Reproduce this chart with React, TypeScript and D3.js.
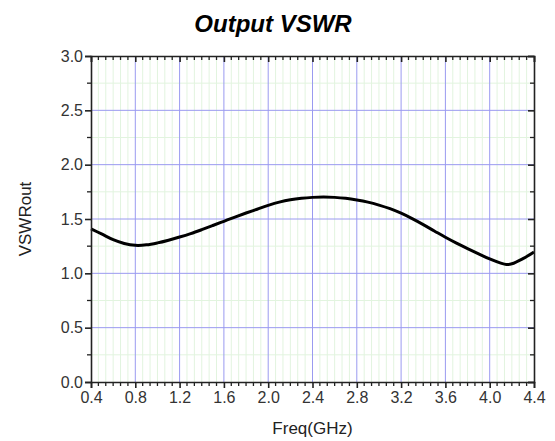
import React, { useEffect, useRef } from 'react';
import * as d3 from 'd3';

// frequency (GHz) and VSWR
const freq = [0.4, 0.5, 0.6, 0.7, 0.8, 0.9, 1.0, 1.1, 1.2, 1.3, 1.4, 1.5, 1.6, 1.7, 1.8, 1.9, 2.0, 2.1, 2.2, 2.3, 2.4, 2.5, 2.6, 2.7, 2.8, 2.9, 3.0, 3.1, 3.2, 3.3, 3.4, 3.5, 3.6, 3.7, 3.8, 3.9, 4.0, 4.1, 4.15, 4.2, 4.3, 4.4];
const vswr = [1.41, 1.36, 1.31, 1.275, 1.258, 1.262, 1.28, 1.305, 1.334, 1.366, 1.402, 1.44, 1.479, 1.518, 1.555, 1.59, 1.625, 1.655, 1.677, 1.691, 1.699, 1.702, 1.699, 1.69, 1.675, 1.655, 1.628, 1.595, 1.553, 1.503, 1.448, 1.39, 1.332, 1.278, 1.228, 1.18, 1.132, 1.094, 1.082, 1.088, 1.135, 1.196];

const xTicks = [0.4, 0.8, 1.2, 1.6, 2.0, 2.4, 2.8, 3.2, 3.6, 4.0, 4.4];
const yTicks = [0, 0.5, 1.0, 1.5, 2.0, 2.5, 3.0];

const App = () => {
  const ref = useRef<SVGSVGElement>(null);

  useEffect(() => {
    const width = 555;
    const height = 441;
    const margin = { top: 56, right: 21, bottom: 59, left: 91 };
    const w = width - margin.left - margin.right;
    const h = height - margin.top - margin.bottom;

    const svg = d3.select(ref.current);
    svg.selectAll('*').remove();

    const g = svg.append('g').attr('transform', `translate(${margin.left},${margin.top})`);

    const x = d3.scaleLinear().domain([0.4, 4.4]).range([0, w]);
    const y = d3.scaleLinear().domain([0, 3]).range([h, 0]);

    // minor positions: 5 minor ticks per x interval, 1 per y interval
    const xMinor: number[] = [];
    for (let i = 0; i < xTicks.length - 1; i++) {
      for (let k = 1; k < 6; k++) xMinor.push(xTicks[i] + (k * 0.4) / 6);
    }
    const yMinor = yTicks.slice(0, -1).map(v => v + 0.25);

    // minor grid (light green)
    g.selectAll('.vminor').data(xMinor).enter().append('line')
      .attr('x1', d => x(d)).attr('x2', d => x(d)).attr('y1', 0).attr('y2', h)
      .attr('stroke', '#e2f4df').attr('stroke-width', 1);
    g.selectAll('.hminor').data(yMinor).enter().append('line')
      .attr('y1', d => y(d)).attr('y2', d => y(d)).attr('x1', 0).attr('x2', w)
      .attr('stroke', '#e2f4df').attr('stroke-width', 1);

    // major grid (blue)
    g.selectAll('.vmajor').data(xTicks.slice(1, -1)).enter().append('line')
      .attr('x1', d => x(d)).attr('x2', d => x(d)).attr('y1', 0).attr('y2', h)
      .attr('stroke', '#9a9af0').attr('stroke-width', 1);
    g.selectAll('.hmajor').data(yTicks.slice(1, -1)).enter().append('line')
      .attr('y1', d => y(d)).attr('y2', d => y(d)).attr('x1', 0).attr('x2', w)
      .attr('stroke', '#9a9af0').attr('stroke-width', 1);

    // curve
    const line = d3.line<number>()
      .x((_, i) => x(freq[i]))
      .y(d => y(d))
      .curve(d3.curveCatmullRom.alpha(0.5));
    g.append('path')
      .datum(vswr)
      .attr('d', line)
      .attr('fill', 'none')
      .attr('stroke', '#000')
      .attr('stroke-width', 3);

    const font = 'Liberation Sans, Arial, sans-serif';

    // bottom axis
    const bottom = g.append('g').attr('transform', `translate(0,${h})`)
      .call(d3.axisBottom(x).tickValues(xTicks).tickFormat(d3.format('.1f')).tickSize(6).tickPadding(4));
    bottom.append('g').selectAll('line').data(xMinor).enter().append('line')
      .attr('x1', d => x(d)).attr('x2', d => x(d)).attr('y1', 0).attr('y2', 4)
      .attr('stroke', '#222').attr('stroke-width', 1.3);

    // left axis
    const left = g.append('g')
      .call(d3.axisLeft(y).tickValues(yTicks).tickFormat(d3.format('.1f')).tickSize(6).tickPadding(2));
    left.append('g').selectAll('line').data(yMinor).enter().append('line')
      .attr('y1', d => y(d)).attr('y2', d => y(d)).attr('x1', 0).attr('x2', -4)
      .attr('stroke', '#222').attr('stroke-width', 1.3);

    // top axis (ticks inward)
    const top = g.append('g')
      .call(d3.axisTop(x).tickValues(xTicks).tickFormat(() => '').tickSize(-6));
    top.append('g').selectAll('line').data(xMinor).enter().append('line')
      .attr('x1', d => x(d)).attr('x2', d => x(d)).attr('y1', 0).attr('y2', 4)
      .attr('stroke', '#222').attr('stroke-width', 1.3);

    // right axis (ticks inward)
    const right = g.append('g').attr('transform', `translate(${w},0)`)
      .call(d3.axisRight(y).tickValues(yTicks).tickFormat(() => '').tickSize(-6));
    right.append('g').selectAll('line').data(yMinor).enter().append('line')
      .attr('y1', d => y(d)).attr('y2', d => y(d)).attr('x1', 0).attr('x2', -4)
      .attr('stroke', '#222').attr('stroke-width', 1.3);

    [bottom, left, top, right].forEach(a => {
      a.select('.domain').attr('stroke', '#222').attr('stroke-width', 1.6);
      a.selectAll('.tick line').attr('stroke', '#222').attr('stroke-width', 1.6);
      a.selectAll('text').attr('fill', '#333').style('font-family', font).style('font-size', '16px');
    });

    // axis titles
    g.append('text')
      .attr('x', w / 2)
      .attr('y', h + 52)
      .attr('text-anchor', 'middle')
      .style('font-family', font)
      .style('font-size', '17px')
      .attr('fill', '#222')
      .text('Freq(GHz)');

    g.append('text')
      .attr('transform', `translate(${-60},${h / 2}) rotate(-90)`)
      .attr('text-anchor', 'middle')
      .style('font-family', font)
      .style('font-size', '17px')
      .attr('fill', '#222')
      .text('VSWRout');

    // chart title
    svg.append('text')
      .attr('x', 273)
      .attr('y', 32)
      .attr('text-anchor', 'middle')
      .style('font-family', font)
      .style('font-size', '24px')
      .style('font-weight', 'bold')
      .style('font-style', 'italic')
      .attr('fill', '#000')
      .text('Output VSWR');
  }, []);

  return (
    <svg
      ref={ref}
      width={555}
      height={441}
      style={{ position: 'absolute', left: 0, top: 0, background: '#fff' }}
    />
  );
};

export default App;
